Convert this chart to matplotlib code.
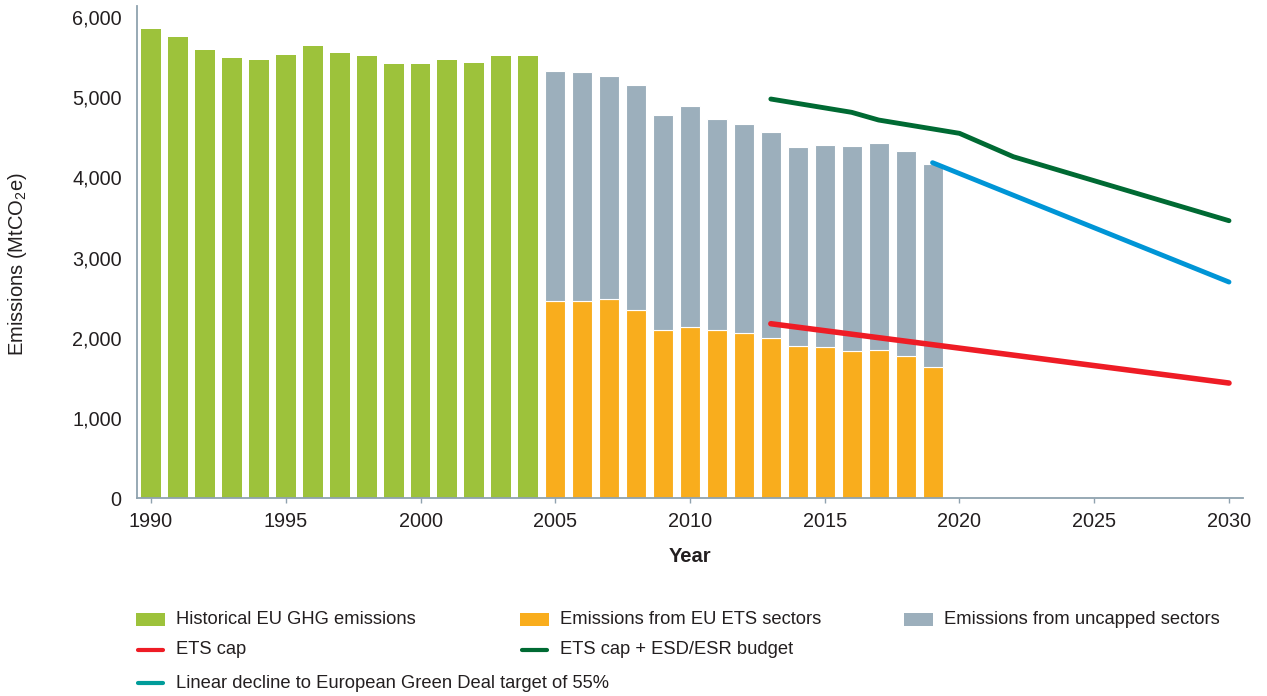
import numpy as np
import matplotlib
matplotlib.use("Agg")
import matplotlib.pyplot as plt
from matplotlib.patches import Rectangle
from matplotlib.lines import Line2D

plt.rcParams['font.family'] = ['Liberation Sans', 'DejaVu Sans']
plt.rcParams['mathtext.fontset'] = 'custom'
plt.rcParams['mathtext.rm'] = 'Liberation Sans'
plt.rcParams['mathtext.default'] = 'regular'

# ── Data ────────────────────────────────────────────────
hist_years = list(range(1990, 2005))
hist_emissions = [5850, 5750, 5588, 5488, 5463, 5526, 5638, 5551,
                  5513, 5413, 5413, 5463, 5426, 5513, 5513]

split_years = list(range(2005, 2020))
ets_sectors = [2453, 2461, 2482, 2345, 2092, 2137, 2099, 2058,
               1996, 1900, 1887, 1837, 1842, 1767, 1638]
uncapped_sectors = [2873, 2853, 2782, 2803, 2689, 2748, 2625, 2607,
                    2569, 2478, 2520, 2554, 2582, 2565, 2524]

cap_years = [2013, 2030]
ets_cap = [2174, 1434]

budget_years = [2013, 2016, 2017, 2020, 2022, 2030]
ets_cap_budget = [4977, 4811, 4715, 4549, 4257, 3459]

gd_years = [2019, 2030]
green_deal = [4183, 2694]

# ── Colours ─────────────────────────────────────────────
C_HIST = '#9DC23B'
C_ETS = '#F9AD1D'
C_UNC = '#9CAFBC'
C_RED = '#EE1C25'
C_DGREEN = '#006A33'
C_BLUE = '#0095D6'
C_TEAL = '#009C9A'
C_TEXT = '#231F20'
C_AXIS = '#8FA2AF'

W, H = 1267, 696
fig = plt.figure(figsize=(W / 100, H / 100), dpi=100)
ax = fig.add_axes([137 / W, 1 - 498 / H, (1243 - 137) / W, (498 - 5.8) / H])

bw = 0.74
ax.bar(hist_years, hist_emissions, width=bw, color=C_HIST, linewidth=0)
ax.bar(split_years, ets_sectors, width=bw, color=C_ETS,
       edgecolor='white', linewidth=0.8)
ax.bar(split_years, uncapped_sectors, width=bw, bottom=ets_sectors,
       color=C_UNC, edgecolor='white', linewidth=0.8)

ax.plot(cap_years, ets_cap, color=C_RED, lw=4, solid_capstyle='round', zorder=4)
ax.plot(budget_years, ets_cap_budget, color=C_DGREEN, lw=3.5,
        solid_capstyle='round', solid_joinstyle='round', zorder=4)
ax.plot(gd_years, green_deal, color=C_BLUE, lw=3.5, solid_capstyle='round', zorder=4)

ax.set_xlim(1989.48, 2030.52)
ax.set_ylim(0, 6140)
ax.set_xticks(range(1990, 2031, 5))
ax.set_yticks(range(0, 6001, 1000))
ax.yaxis.set_major_formatter(plt.FuncFormatter(lambda v, p: f'{v:,.0f}'))

for s in ['top', 'right']:
    ax.spines[s].set_visible(False)
for s in ['left', 'bottom']:
    ax.spines[s].set_color(C_AXIS)
    ax.spines[s].set_linewidth(1.3)

ax.tick_params(axis='x', length=3.5, width=1, color=C_AXIS, pad=6.5,
               labelsize=14.3, labelcolor=C_TEXT)
ax.tick_params(axis='y', length=0, pad=11, labelsize=14.3, labelcolor=C_TEXT)

fig.text(18 / W, 1 - 264 / H, 'Emissions (MtCO$_2$e)', rotation=90,
         ha='center', va='center', fontsize=14.5, color=C_TEXT)
fig.text(690 / W, 1 - 556 / H, 'Year', ha='center', va='center',
         fontsize=14.5, fontweight='bold', color=C_TEXT)

# ── Legend (laid out by hand) ───────────────────────────
legend_items = [
    ('patch', C_HIST, 'Historical EU GHG emissions', 136, 619.5),
    ('patch', C_ETS, 'Emissions from EU ETS sectors', 520, 619.5),
    ('patch', C_UNC, 'Emissions from uncapped sectors', 904, 619.5),
    ('line', C_RED, 'ETS cap', 136, 650),
    ('line', C_DGREEN, 'ETS cap + ESD/ESR budget', 520, 650),
    ('line', C_TEAL, 'Linear decline to European Green Deal target of 55%', 136, 683),
]
for kind, col, label, x0, yc in legend_items:
    if kind == 'patch':
        fig.add_artist(Rectangle((x0 / W, 1 - (yc + 6.5) / H), 29 / W, 13 / H,
                                 facecolor=col, edgecolor='none',
                                 transform=fig.transFigure))
    else:
        fig.add_artist(Line2D([(x0 + 2) / W, (x0 + 27) / W], [1 - yc / H] * 2,
                              color=col, lw=3, solid_capstyle='round',
                              transform=fig.transFigure))
    fig.text((x0 + 40) / W, 1 - yc / H, label, ha='left', va='center',
             fontsize=13.2, color=C_TEXT)

fig.savefig('out.png', dpi=100)
